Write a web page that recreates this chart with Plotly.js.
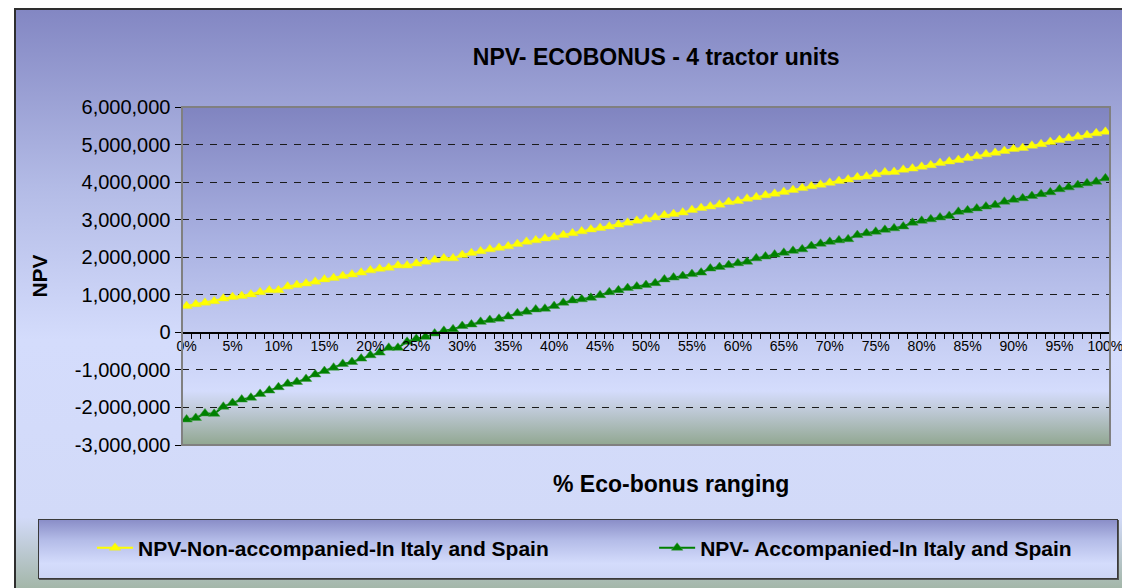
<!DOCTYPE html>
<html>
<head>
<meta charset="utf-8">
<script src="https://cdn.plot.ly/plotly-3.0.1.min.js"></script>
<style>
  html, body { margin:0; padding:0; width:1122px; height:588px; overflow:hidden; background:#ffffff; }
  #frame { position:absolute; left:14px; top:8px; width:1120px; height:590px;
    border-left:2px solid #2e2e2e; border-top:2px solid #2e2e2e;
    background: linear-gradient(to bottom, #8387c3 0%, #b3bbe6 30%, #d4dcfc 56%, #d2daf8 86%, #9cb19c 100%); }
  #plotbg { position:absolute; left:182px; top:107px; width:928px; height:338px;
    background: linear-gradient(to bottom, #8084c0 0%, #aab2e2 40%, #d4dcfc 84%, #c2ccdc 89%, #91a791 100%); }
  #legbg { position:absolute; left:38px; top:519px; width:1078px; height:58px;
    border:1.5px solid #3a3a3a; box-shadow: 1px 1px 0 #555;
    background: linear-gradient(to bottom, #8a8ec8 0%, #b4bce8 35%, #d4dcfc 75%, #cdd5f4 100%); }
  #chart { position:absolute; left:0; top:0; width:1122px; height:588px; }
</style>
</head>
<body>
<div id="frame"></div>
<div id="plotbg"></div>
<div id="legbg"></div>
<div id="chart"></div>
<script>
// categories: % eco-bonus
const ecoBonusPct = [0,1,2,3,4,5,6,7,8,9,10,11,12,13,14,15,16,17,18,19,20,21,22,23,24,25,26,27,28,29,30,31,32,33,34,35,36,37,38,39,40,41,42,43,44,45,46,47,48,49,50,51,52,53,54,55,56,57,58,59,60,61,62,63,64,65,66,67,68,69,70,71,72,73,74,75,76,77,78,79,80,81,82,83,84,85,86,87,88,89,90,91,92,93,94,95,96,97,98,99,100];

const xTickVals = [0,5,10,15,20,25,30,35,40,45,50,55,60,65,70,75,80,85,90,95,100];
const xTickText = ['0%','5%','10%','15%','20%','25%','30%','35%','40%','45%','50%','55%','60%','65%','70%','75%','80%','85%','90%','95%','100%'];

const yTickVals = [-3000000,-2000000,-1000000,0,1000000,2000000,3000000,4000000,5000000,6000000];
const yTickText = ['-3,000,000','-2,000,000','-1,000,000','0','1,000,000','2,000,000','3,000,000','4,000,000','5,000,000','6,000,000'];

// NPV-Non-accompanied-In Italy and Spain
const npvNonAccompanied = [
  700000,750000,790000,830000,900000,940000,970000,1010000,1070000,1120000,
  1120000,1220000,1260000,1300000,1350000,1410000,1450000,1500000,1540000,1590000,
  1650000,1690000,1720000,1780000,1780000,1830000,1880000,1930000,1970000,1970000,
  2060000,2110000,2160000,2210000,2250000,2290000,2350000,2410000,2450000,2500000,
  2530000,2590000,2640000,2690000,2740000,2780000,2820000,2870000,2920000,2970000,
  3010000,3060000,3120000,3150000,3190000,3260000,3310000,3350000,3400000,3470000,
  3500000,3560000,3600000,3650000,3690000,3740000,3790000,3840000,3890000,3930000,
  3980000,4030000,4070000,4130000,4150000,4210000,4260000,4270000,4330000,4360000,
  4410000,4450000,4510000,4550000,4590000,4640000,4690000,4740000,4780000,4830000,
  4880000,4910000,4970000,5010000,5070000,5120000,5170000,5210000,5250000,5300000,
  5340000];

// NPV- Accompanied-In Italy and Spain
const npvAccompanied = [
  -2320000,-2280000,-2160000,-2170000,-1980000,-1880000,-1790000,-1740000,-1640000,-1550000,
  -1460000,-1370000,-1320000,-1240000,-1120000,-1030000,-940000,-840000,-790000,-700000,
  -610000,-540000,-410000,-410000,-250000,-170000,-120000,-30000,40000,80000,
  170000,210000,280000,330000,360000,420000,510000,550000,610000,630000,
  700000,790000,850000,880000,920000,990000,1070000,1120000,1180000,1220000,
  1260000,1310000,1410000,1460000,1500000,1550000,1590000,1700000,1740000,1790000,
  1840000,1880000,1970000,2020000,2070000,2120000,2170000,2210000,2300000,2360000,
  2410000,2450000,2480000,2590000,2640000,2680000,2730000,2770000,2820000,2920000,
  2970000,3010000,3060000,3100000,3210000,3250000,3300000,3350000,3390000,3480000,
  3530000,3570000,3630000,3680000,3730000,3810000,3860000,3920000,3970000,4010000,
  4100000];

const seriesNames = ['NPV-Non-accompanied-In Italy and Spain', 'NPV- Accompanied-In Italy and Spain'];
const seriesColors = ['#ffff00', '#008000'];
const xAxisTitle = '% Eco-bonus ranging';

const traces = [
  { x: ecoBonusPct, y: npvNonAccompanied, name: seriesNames[0], type: 'scatter', mode: 'lines+markers',
    legend: 'legend',
    line: { color: seriesColors[0], width: 2 },
    marker: { symbol: 'triangle-up', size: 10, color: seriesColors[0], line: { color: '#e8e83a', width: 0.5 } } },
  { x: ecoBonusPct, y: npvAccompanied, name: seriesNames[1], type: 'scatter', mode: 'lines+markers',
    legend: 'legend2',
    line: { color: seriesColors[1], width: 2 },
    marker: { symbol: 'triangle-up', size: 10, color: seriesColors[1], line: { color: '#3c9a3c', width: 0.5 } } }
];

const legendFont = { size: 21, color: '#000000', family: 'Arial, "Liberation Sans", sans-serif', weight: 'bold' };

const layout = {
  width: 1122, height: 588,
  margin: { l: 182, r: 12, t: 107, b: 143, pad: 0 },
  paper_bgcolor: 'rgba(0,0,0,0)',
  plot_bgcolor: 'rgba(0,0,0,0)',
  font: { family: 'Arial, "Liberation Sans", sans-serif', color: '#000000' },
  title: { text: '<b>NPV- ECOBONUS - 4 tractor units</b>', font: { size: 23, color: '#000000' },
    xref: 'paper', x: 0.511, xanchor: 'center', yref: 'container', y: 0.903, yanchor: 'middle' },
  showlegend: true,
  legend: { orientation: 'h', xref: 'container', yref: 'container', x: 0.082, xanchor: 'left', y: 0.068, yanchor: 'middle',
    bgcolor: 'rgba(0,0,0,0)', font: legendFont, itemwidth: 36 },
  legend2: { orientation: 'h', xref: 'container', yref: 'container', x: 0.583, xanchor: 'left', y: 0.068, yanchor: 'middle',
    bgcolor: 'rgba(0,0,0,0)', font: legendFont, itemwidth: 36 },
  xaxis: {
    range: [-0.5, 100.5], anchor: 'free', position: 1/3,
    showline: true, linecolor: '#000000', linewidth: 1.5,
    tickmode: 'array', tickvals: xTickVals, ticktext: xTickText, ticks: '',
    tickfont: { size: 14, color: '#000000' }, ticklabeloverflow: 'allow',
    minor: { ticks: 'outside', tick0: -0.5, dtick: 1, ticklen: 5, tickcolor: '#000000', tickwidth: 1, showgrid: false },
    showgrid: false, zeroline: false, fixedrange: true
  },
  yaxis: {
    range: [-3000000, 6000000],
    showline: true, linecolor: '#000000', linewidth: 1.5,
    tickmode: 'array', tickvals: yTickVals, ticktext: yTickText,
    ticks: 'outside', ticklen: 6, tickcolor: '#000000', tickwidth: 1,
    tickfont: { size: 20, color: '#000000' },
    showgrid: true, gridcolor: '#1a1a1a', gridwidth: 1, griddash: '7px,7px',
    zeroline: false, fixedrange: true,
    title: { text: '<b>NPV</b>', font: { size: 21, color: '#000000' }, standoff: 21 }
  },
  annotations: [
    { text: '<b>' + xAxisTitle + '</b>', xref: 'paper', yref: 'paper', x: 0.527, y: -0.1154,
      xanchor: 'center', yanchor: 'middle', showarrow: false, font: { size: 23, color: '#000000' } }
  ],
  shapes: [
    { type: 'rect', xref: 'paper', yref: 'paper', x0: 0, x1: 1, y0: 0, y1: 1,
      line: { color: '#808080', width: 2 }, fillcolor: 'rgba(0,0,0,0)', layer: 'above' }
  ]
};

Plotly.newPlot('chart', traces, layout, { displayModeBar: false, staticPlot: true });
</script>
</body>
</html>
